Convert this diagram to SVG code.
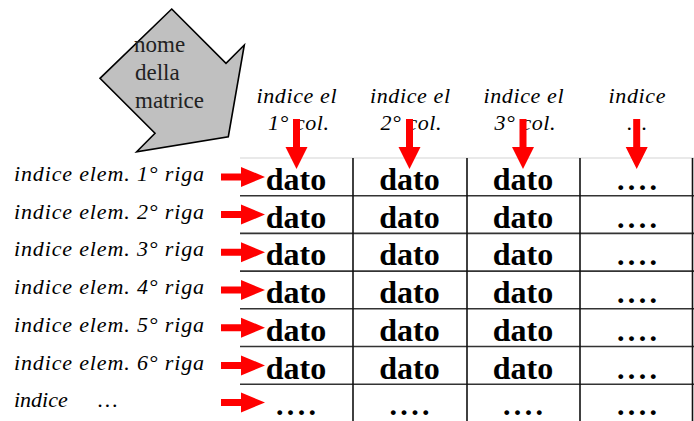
<svg xmlns="http://www.w3.org/2000/svg" xmlns:xlink="http://www.w3.org/1999/xlink" width="694" height="421" viewBox="0 0 694 421">
  <style>
    .lbl { font-family: "Liberation Serif", "Times New Roman", serif; font-style: italic; font-size: 22px; fill: #000; }
    .hdr { font-family: "Liberation Serif", "Times New Roman", serif; font-style: italic; font-size: 22px; fill: #000; text-anchor: middle; }
    .cell { font-family: "Liberation Serif", "Times New Roman", serif; font-weight: bold; font-size: 32px; fill: #000; text-anchor: middle; }
    .dots { font-family: "Liberation Serif", "Times New Roman", serif; font-weight: bold; font-size: 30px; fill: #000; text-anchor: middle; }
    .name { font-family: "Liberation Serif", "Times New Roman", serif; font-size: 23px; fill: #222; }
    .hline { stroke: #333; stroke-width: 1.6; }
    .vline { stroke: #111; stroke-width: 1.6; }
    .arrow { fill: #ff0000; }
  </style>
  <defs>
    <!-- red block arrow pointing right, origin at tail centre -->
    <path id="arrR" class="arrow" d="M0,-3.5 H20 V-10 L44,0 L20,10 V3.5 H0 Z"/>
    <!-- red block arrow pointing down, origin at tail centre -->
    <path id="arrD" class="arrow" d="M-3.5,0 H3.5 V28 H11 L0,50 L-11,28 H-3.5 Z"/>
  </defs>
  <rect width="694" height="421" fill="#fff"/>

  <!-- gray block arrow holding the matrix name -->
  <g id="matrix-name">
    <path d="M171.7,9 L226,63.3 L244.3,45 L228.3,136.7 L136.7,151.7 L155,133.3 L100,78.3 Z" fill="#c0c0c0" stroke="#000" stroke-width="1.6" stroke-linejoin="miter"/>
    <text class="name" x="134" y="52">nome</text>
    <text class="name" x="135" y="80">della</text>
    <text class="name" x="135" y="108">matrice</text>
  </g>

  <!-- column headers -->
  <g id="col-headers">
    <text class="hdr" x="296.5" y="103" textLength="80">indice el</text>
    <text class="hdr" x="298.5" y="130" textLength="61">1° col.</text>
    <text class="hdr" x="410" y="103" textLength="80">indice el</text>
    <text class="hdr" x="411" y="130" textLength="61">2° col.</text>
    <text class="hdr" x="523.5" y="103" textLength="80">indice el</text>
    <text class="hdr" x="525" y="130" textLength="61">3° col.</text>
    <text class="hdr" x="637" y="103" textLength="57">indice</text>
    <text class="hdr" x="637" y="130">…</text>
  </g>

  <!-- row headers -->
  <g id="row-headers">
    <text class="lbl" x="14" y="181" textLength="190">indice elem. 1° riga</text>
    <text class="lbl" x="14" y="218.7" textLength="190">indice elem. 2° riga</text>
    <text class="lbl" x="14" y="256.4" textLength="190">indice elem. 3° riga</text>
    <text class="lbl" x="14" y="294.1" textLength="190">indice elem. 4° riga</text>
    <text class="lbl" x="14" y="331.8" textLength="190">indice elem. 5° riga</text>
    <text class="lbl" x="14" y="369.5" textLength="190">indice elem. 6° riga</text>
    <text class="lbl" x="14" y="407.2">indice<tspan x="98">…</tspan></text>
  </g>

  <!-- the matrix -->
  <g id="matrix">
    <line x1="240" y1="158" x2="694" y2="158" stroke="#e2e2e2" stroke-width="1.6"/>
    <line class="hline" x1="240" y1="195.7" x2="694" y2="195.7"/>
    <line class="hline" x1="240" y1="233.4" x2="694" y2="233.4"/>
    <line class="hline" x1="240" y1="271.1" x2="694" y2="271.1"/>
    <line class="hline" x1="240" y1="308.8" x2="694" y2="308.8"/>
    <line class="hline" x1="240" y1="346.5" x2="694" y2="346.5"/>
    <line class="hline" x1="240" y1="384.2" x2="694" y2="384.2"/>
    <line class="vline" x1="353" y1="158" x2="353" y2="421"/>
    <line class="vline" x1="467" y1="158" x2="467" y2="421"/>
    <line class="vline" x1="580" y1="158" x2="580" y2="421"/>
    <line class="vline" x1="692.5" y1="158" x2="692.5" y2="421"/>

    <g id="row-1">
      <text class="cell" x="296" y="190">dato</text>
      <text class="cell" x="409.5" y="190">dato</text>
      <text class="cell" x="523" y="190">dato</text>
      <text class="dots" x="637" y="190" textLength="40">....</text>
    </g>
    <g id="row-2">
      <text class="cell" x="296" y="227.7">dato</text>
      <text class="cell" x="409.5" y="227.7">dato</text>
      <text class="cell" x="523" y="227.7">dato</text>
      <text class="dots" x="637" y="227.7" textLength="40">....</text>
    </g>
    <g id="row-3">
      <text class="cell" x="296" y="265.4">dato</text>
      <text class="cell" x="409.5" y="265.4">dato</text>
      <text class="cell" x="523" y="265.4">dato</text>
      <text class="dots" x="637" y="265.4" textLength="40">....</text>
    </g>
    <g id="row-4">
      <text class="cell" x="296" y="303.1">dato</text>
      <text class="cell" x="409.5" y="303.1">dato</text>
      <text class="cell" x="523" y="303.1">dato</text>
      <text class="dots" x="637" y="303.1" textLength="40">....</text>
    </g>
    <g id="row-5">
      <text class="cell" x="296" y="340.8">dato</text>
      <text class="cell" x="409.5" y="340.8">dato</text>
      <text class="cell" x="523" y="340.8">dato</text>
      <text class="dots" x="637" y="340.8" textLength="40">....</text>
    </g>
    <g id="row-6">
      <text class="cell" x="296" y="378.5">dato</text>
      <text class="cell" x="409.5" y="378.5">dato</text>
      <text class="cell" x="523" y="378.5">dato</text>
      <text class="dots" x="637" y="378.5" textLength="40">....</text>
    </g>
    <g id="row-7">
      <text class="dots" x="296" y="415" textLength="40">....</text>
      <text class="dots" x="409.5" y="415" textLength="40">....</text>
      <text class="dots" x="523" y="415" textLength="40">....</text>
      <text class="dots" x="637" y="415" textLength="40">....</text>
    </g>
  </g>

  <!-- red index arrows -->
  <g id="connectors">
    <use xlink:href="#arrD" x="296.5" y="119"/>
    <use xlink:href="#arrD" x="409.5" y="119"/>
    <use xlink:href="#arrD" x="523" y="119"/>
    <use xlink:href="#arrD" x="636.7" y="119"/>
    <use xlink:href="#arrR" x="221" y="176.9"/>
    <use xlink:href="#arrR" x="221" y="214.6"/>
    <use xlink:href="#arrR" x="221" y="252.3"/>
    <use xlink:href="#arrR" x="221" y="290"/>
    <use xlink:href="#arrR" x="221" y="327.7"/>
    <use xlink:href="#arrR" x="221" y="365.4"/>
    <use xlink:href="#arrR" x="221" y="402.5"/>
  </g>
</svg>
